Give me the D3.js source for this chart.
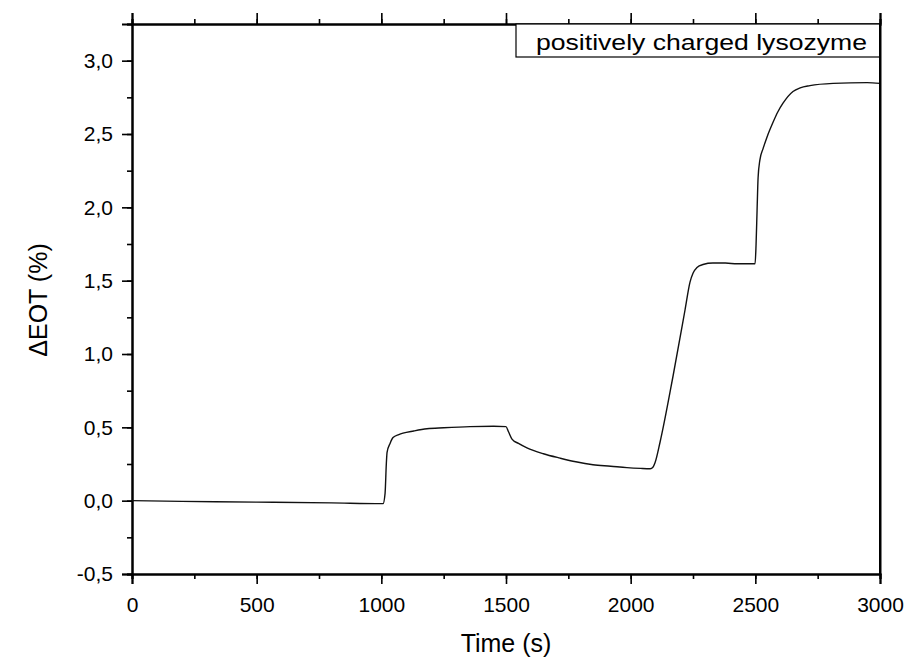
<!DOCTYPE html>
<html><head><meta charset="utf-8">
<script src="https://cdn.jsdelivr.net/npm/d3@7"></script>
<style>body{margin:0;background:#fff;} text{font-family:Arial,"Liberation Sans",sans-serif;}</style>
</head><body>
<svg id="c" width="906" height="658"></svg>
<script>
const timeS = [0,200,500,800,1000,1007,1015,1020,1023,1035,1047,1070,1087,1130,1183,1250,1356,1450,1500,1510,1524,1550,1584,1650,1717,1780,1849,1920,1985,2040,2078,2090,2098,2118,2170,2218,2238,2250,2266,2290,2330,2380,2427,2499,2503,2507,2511,2518,2531,2547,2571,2590,2611,2651,2680,2719,2812,2948,3000];
const deltaEOT = [0.00,-0.005,-0.01,-0.015,-0.02,-0.02,0.05,0.25,0.33,0.39,0.43,0.45,0.46,0.475,0.49,0.497,0.505,0.507,0.505,0.47,0.42,0.39,0.36,0.32,0.29,0.265,0.245,0.235,0.225,0.22,0.218,0.23,0.26,0.40,0.85,1.30,1.49,1.55,1.59,1.61,1.62,1.62,1.615,1.615,1.75,1.98,2.2,2.32,2.40,2.48,2.58,2.65,2.71,2.79,2.815,2.83,2.845,2.85,2.845];
const xTicks = [0,500,1000,1500,2000,2500,3000];
const yTicks = [-0.5,0,0.5,1,1.5,2,2.5,3];
const legendLabel = "positively charged lysozyme";

const svg = d3.select("#c");
const L=132,R=880,T=24,B=574;
const x = d3.scaleLinear().domain([0,3000]).range([L,R]);
const y = d3.scaleLinear().domain([-0.5,3.25]).range([B,T]);
const fmt = d => d3.format(".1f")(d).replace(".",",").replace("\u2212","-");

const xMinor = d3.range(0,3001,250);
const yMinor = d3.range(-0.5,3.26,0.25);

svg.append("g").attr("transform",`translate(0,${B})`)
  .call(d3.axisBottom(x).tickValues(xMinor).tickSize(5).tickFormat(""));
svg.append("g").attr("transform",`translate(0,${B})`)
  .call(d3.axisBottom(x).tickValues(xTicks).tickSize(10).tickPadding(13).tickFormat(d3.format("d")));
svg.append("g").attr("transform",`translate(0,${T})`).call(d3.axisTop(x).tickValues(xMinor).tickSize(5).tickFormat(""));
svg.append("g").attr("transform",`translate(0,${T})`).call(d3.axisTop(x).tickValues(xTicks).tickSize(11).tickFormat(""));
svg.append("g").attr("transform",`translate(${L},0)`).call(d3.axisLeft(y).tickValues(yMinor).tickSize(5).tickFormat(""));
svg.append("g").attr("transform",`translate(${L},0)`).call(d3.axisLeft(y).tickValues(yTicks).tickSize(10).tickPadding(9).tickFormat(fmt));
svg.append("g").attr("transform",`translate(${R},0)`).call(d3.axisRight(y).tickValues([]).tickSize(0).tickFormat(""));

svg.selectAll(".domain").attr("stroke","#000").attr("stroke-width",2);
svg.selectAll(".tick line").attr("stroke","#000").attr("stroke-width",1.6);
svg.selectAll(".tick text").attr("font-size",21).attr("fill","#000").attr("font-family","Arial, 'Liberation Sans', sans-serif");

const pts = timeS.map((t,i)=>[t,deltaEOT[i]]);
svg.append("path").datum(pts)
  .attr("fill","none").attr("stroke","#111").attr("stroke-width",1.4)
  .attr("d", d3.line().x(d=>x(d[0])).y(d=>y(d[1])).curve(d3.curveMonotoneX));

svg.append("rect").attr("x",516).attr("y",T).attr("width",R-516).attr("height",33)
  .attr("fill","#fff").attr("stroke","#000").attr("stroke-width",1.2);
svg.append("text").attr("x",536).attr("y",50).attr("font-size",22).attr("fill","#000")
  .attr("textLength",331).attr("lengthAdjust","spacingAndGlyphs").text(legendLabel);
svg.append("line").attr("x1",R).attr("x2",R).attr("y1",T).attr("y2",B).attr("stroke","#000").attr("stroke-width",2);

svg.append("text").attr("x",(L+R)/2).attr("y",652).attr("text-anchor","middle").attr("font-size",25).attr("fill","#000").text("Time (s)");
svg.append("text").attr("transform",`translate(47,300) rotate(-90)`).attr("text-anchor","middle").attr("font-size",25).attr("fill","#000").text("ΔEOT (%)");
</script>
</body></html>
